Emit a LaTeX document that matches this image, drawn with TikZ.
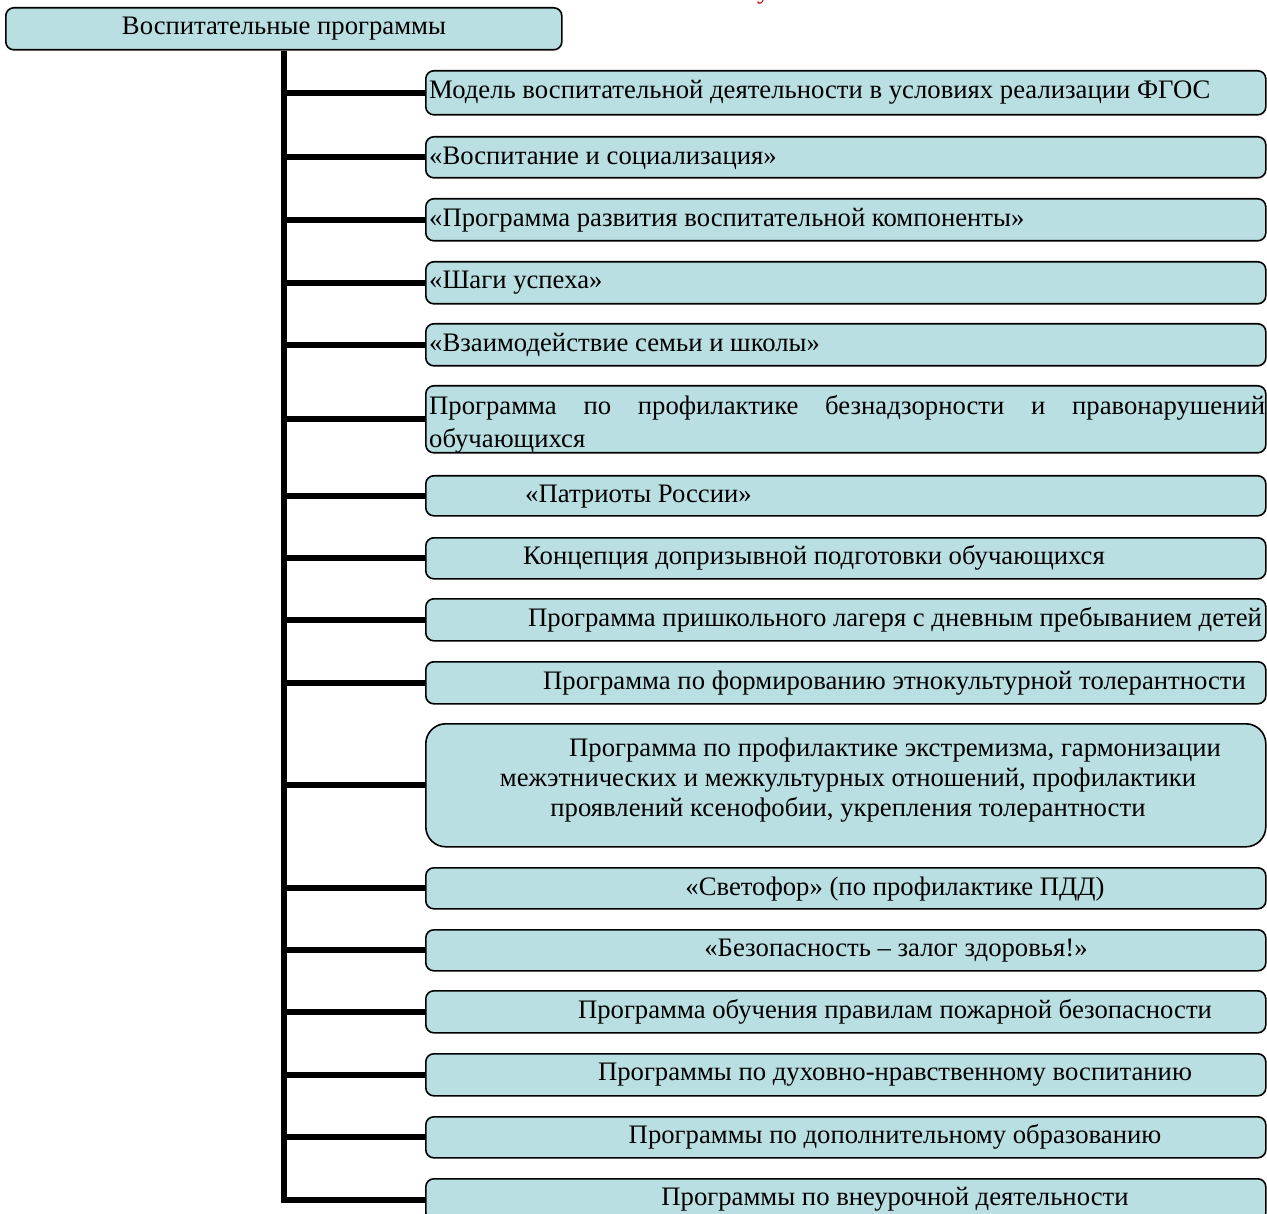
\documentclass[tikz,border=0pt]{standalone}
\usepackage{fontspec}
\setmainfont{Liberation Serif}
\definecolor{boxfill}{RGB}{185,223,226}
\definecolor{redtxt}{RGB}{200,0,0}
\begin{document}
\begin{tikzpicture}[x=1pt,y=-1pt,
  box/.style={draw=black, line width=1.6pt, fill=boxfill, rounded corners=8pt, inner sep=0pt, anchor=north west, minimum width=840pt},
  bar/.style={line width=6pt},
  txt/.style={font=\fontsize{26.7}{31}\selectfont, inner sep=0pt, anchor=west},
  ctxt/.style={font=\fontsize{26.7}{31}\selectfont, inner sep=0pt, anchor=center}]
\useasboundingbox (0,0) rectangle (1267,1214);
\node[txt, text=redtxt, anchor=base west] (redu) at (757,-1) {у};
\node[box, minimum width=556pt, minimum height=42pt] (top) at (5,7) {};
\coordinate (tx) at (284,0);
\foreach \n/\t/\h in {1/70/44, 2/136/41, 3/198/42, 4/261/42, 5/323/42, 6/385/67, 7/475/40, 8/537/41, 9/598/42, 10/661/42, 12/867/41, 13/929/41, 14/990/42, 15/1053/42, 16/1116/41, 17/1178/42}
  \node[box, minimum height=\h pt] (b\n) at (425,\t) {};
\node[box, rounded corners=20pt, minimum height=123pt] (b11) at (425,723) {};
% connectors
\draw[bar] (top.south -| tx) |- (b17.west);
\foreach \n in {1,...,16}
  \draw[bar] (b\n.west -| tx) -- (b\n.west);
% texts
\node[ctxt] (t0) at (284,29) {Воспитательные программы};
\node[txt] (t1) at (429,92) {Модель воспитательной деятельности в условиях реализации ФГОС};
\node[txt] (t2) at (429,158) {«Воспитание и социализация»};
\node[txt] (t3) at (429,220) {«Программа развития воспитательной компоненты»};
\node[txt] (t4) at (429,283) {«Шаги успеха»};
\node[txt] (t5) at (429,345) {«Взаимодействие семьи и школы»};
\node[txt, text width=836pt, align=justify, font=\fontsize{26.7}{33}\selectfont] (t6) at (429,424) {Программа по профилактике безнадзорности и правонарушений обучающихся};
\node[txt] (t7) at (525,497) {«Патриоты России»};
\node[txt] (t8) at (523,558) {Концепция допризывной подготовки обучающихся};
\node[txt] (t9) at (528,620) {Программа пришкольного лагеря с дневным пребыванием детей};
\node[txt] (t10) at (543,683) {Программа по формированию этнокультурной толерантности};
\node[ctxt, align=center, font=\fontsize{26.7}{30}\selectfont] (t11) at (848,780) {\hspace*{94pt}Программа по профилактике экстремизма, гармонизации\\межэтнических и межкультурных отношений, профилактики\\проявлений ксенофобии, укрепления толерантности};
\node[ctxt] (t12) at (895,889) {«Светофор» (по профилактике ПДД)};
\node[ctxt] (t13) at (896,951) {«Безопасность – залог здоровья!»};
\node[ctxt] (t14) at (895,1012) {Программа обучения правилам пожарной безопасности};
\node[ctxt] (t15) at (895,1075) {Программы по духовно-нравственному воспитанию};
\node[ctxt] (t16) at (895,1137) {Программы по дополнительному образованию};
\node[ctxt] (t17) at (895,1199) {Программы по внеурочной деятельности};
\end{tikzpicture}
\end{document}
